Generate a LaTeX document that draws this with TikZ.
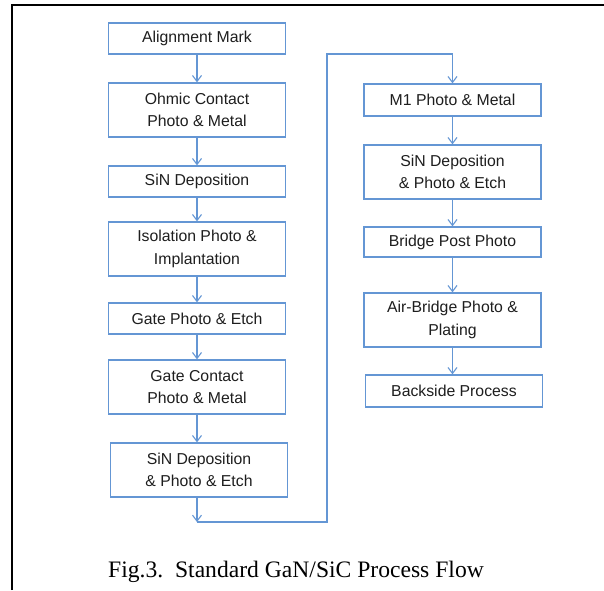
\documentclass[tikz,border=0pt]{standalone}
\usepackage{fontspec}
\setmainfont{Liberation Serif}
\newfontfamily\boxfont{Liberation Sans}
\usetikzlibrary{arrows.meta}
\definecolor{flowblue}{RGB}{100,150,212}
\definecolor{boxtext}{RGB}{30,30,30}
\begin{document}
\begin{tikzpicture}[x=1pt,y=-1pt,
  stepbox/.style={draw=flowblue,line width=1.3pt,inner sep=0pt,
    minimum width=177pt,align=center,text=boxtext,
    font=\boxfont\fontsize{15.8}{22.5}\selectfont},
  onerow/.style={stepbox,minimum height=31pt},
  tworow/.style={stepbox,minimum height=54pt},
  flow/.style={draw=flowblue,line width=1.1pt},
  flowarrow/.style={flow,-{Straight Barb[length=6pt,width=9pt,line width=1.1pt]}}]
\useasboundingbox (0,0) rectangle (604,590);
\fill[white] (0,0) rectangle (604,590);

% page frame
\draw[line width=2pt,black] (12,590) -- (12,5) -- (604,5);

% left column
\node[onerow] (align)  at (197,38.5) {Alignment Mark};
\node[tworow] (ohmic)  at (197,110)  {Ohmic Contact\\Photo \& Metal};
\node[onerow] (sin1)   at (197,181.5){SiN Deposition};
\node[tworow] (iso)    at (197,249)  {Isolation Photo \&\\Implantation};
\node[onerow] (gate)   at (197,318.5){Gate Photo \& Etch};
\node[tworow] (gatec)  at (197,387)  {Gate Contact\\Photo \& Metal};
\node[tworow] (sin2)   at (199,470)  {SiN Deposition\\\& Photo \& Etch};

% right column
\node[stepbox,minimum height=32pt] (m1)     at (452.5,100) {M1 Photo \& Metal};
\node[tworow]                      (sin3)   at (452.5,172) {SiN Deposition\\\& Photo \& Etch};
\node[stepbox,minimum height=30pt] (post)   at (452.5,242) {Bridge Post Photo};
\node[tworow]                      (air)    at (452.5,320) {Air-Bridge Photo \&\\Plating};
\node[stepbox,minimum height=32pt] (back)   at (454,391)   {Backside Process};

% connectors, left column
\draw[flowarrow] (align.south) -- (align.south |- ohmic.north);
\draw[flowarrow] (ohmic.south) -- (ohmic.south |- sin1.north);
\draw[flowarrow] (sin1.south)  -- (sin1.south |- iso.north);
\draw[flowarrow] (iso.south)   -- (iso.south |- gate.north);
\draw[flowarrow] (gate.south)  -- (gate.south |- gatec.north);
\draw[flowarrow] (gatec.south) -- (gatec.south |- sin2.north);

% crossover to the right column
\coordinate (turnlow)  at (197,522);
\coordinate (turnhigh) at (327,54);
\draw[flowarrow] (sin2.south -| turnlow) -- (turnlow);
\draw[flowarrow] (turnlow) -| (turnhigh) -| (m1.north);

% connectors, right column
\draw[flowarrow] (m1.south)   -- (m1.south |- sin3.north);
\draw[flowarrow] (sin3.south) -- (sin3.south |- post.north);
\draw[flowarrow] (post.south) -- (post.south |- air.north);
\draw[flowarrow] (air.south)  -- (air.south |- back.north);

% caption
\node[anchor=base west,inner sep=0pt,font=\fontsize{23.6}{26}\selectfont] (caption)
  at (108,577) {Fig.3.\ \ Standard GaN/SiC Process Flow};
\end{tikzpicture}
\end{document}
